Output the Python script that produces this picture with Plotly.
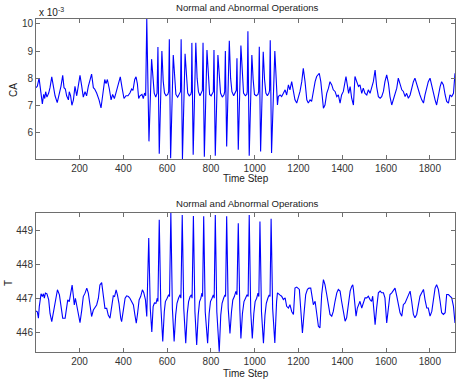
import plotly.graph_objects as go

# ---------------- data ----------------
# Concentration CA (units of 1e-3)
ca_step = [1, 7, 15, 22, 30, 36, 41, 45, 51, 59, 65, 73, 80, 88, 98, 108, 115, 123, 129, 135, 141, 149, 153, 159, 165,
           172, 179, 187, 194, 202, 210, 217, 225, 232, 240, 248, 255, 263, 269, 278, 289, 298, 309, 315, 321, 327,
           336, 344, 351, 359, 366, 377, 386, 394, 403, 412, 421, 430, 438, 444, 452, 458, 464, 470, 476, 485, 491,
           497, 502,
           507, 517, 529, 535, 541, 548, 554,
           558, 564, 576, 582, 588, 595, 603, 607,
           610, 616, 628, 634, 640, 648, 656, 661,
           664, 670, 682, 688, 694, 701, 708, 711,
           713, 719, 731, 737, 743, 750, 757, 761,
           764, 770, 782, 788, 794, 801, 808, 811,
           814, 820, 832, 838, 844, 852, 860, 863,
           866, 872, 884, 890, 896, 904, 912, 916,
           919, 925, 937, 943, 949, 957, 964, 966,
           969, 975, 987, 993, 999, 1007, 1015, 1018,
           1021, 1027, 1039, 1045, 1051, 1058, 1065, 1068,
           1071, 1077, 1092,
           1104, 1108, 1116, 1123, 1131, 1139, 1146, 1154, 1161, 1169, 1177, 1184, 1192, 1199, 1207, 1215, 1222,
           1230, 1238, 1245, 1253, 1260, 1268, 1276, 1283, 1295, 1302, 1308, 1314, 1321, 1329, 1337, 1344, 1352,
           1359, 1367, 1375, 1382, 1390, 1397, 1405, 1417, 1423, 1429, 1436, 1443, 1451, 1458, 1466, 1474, 1481,
           1489, 1496, 1504, 1512, 1519, 1527, 1534, 1542, 1550, 1557, 1565, 1573, 1580, 1588, 1595, 1603, 1611,
           1618, 1626, 1633, 1641, 1649, 1656, 1664, 1672, 1679, 1687, 1694, 1702, 1710, 1717, 1725, 1732, 1740,
           1748, 1755, 1763, 1771, 1778, 1786, 1793, 1801, 1809, 1816, 1824, 1831, 1839, 1847, 1854, 1862, 1870,
           1877, 1885, 1892, 1900, 1908, 1915]
ca_e3 = [7.65, 7.7, 8.0, 7.5, 7.05, 7.4, 7.25, 7.5, 7.3, 7.45, 7.65, 8.05, 7.75, 7.35, 7.1, 7.45, 7.7, 8.1, 7.65, 7.6,
         7.35, 7.2, 7.5, 7.35, 7.0, 7.2, 7.7, 7.35, 7.7, 8.1, 7.7, 7.3, 7.5, 7.35, 7.7, 7.95, 8.15, 7.65, 7.6, 7.45,
         7.2, 6.9, 7.75, 7.95, 7.8, 7.95, 7.6, 7.2, 7.4, 7.25, 7.45, 7.75, 8.05, 7.65, 7.25, 7.35, 7.35, 7.45, 7.6,
         7.55, 7.95, 8.05, 7.8, 7.25, 7.35, 7.4, 7.25, 7.45, 7.35,
         10.18, 5.67, 8.7, 7.95, 7.45, 7.3, 7.45,
         9.15, 5.21, 9.0, 7.9, 7.45, 7.35, 7.4, 7.5,
         9.43, 5.05, 8.85, 7.95, 7.4, 7.3, 7.4, 7.5,
         9.43, 5.02, 8.9, 8.0, 7.45, 7.35, 7.4, 7.5,
         9.3, 5.18, 9.3, 8.0, 7.5, 7.35, 7.45, 7.55,
         9.3, 5.1, 9.04, 7.95, 7.4, 7.35, 7.45, 7.5,
         9.04, 5.14, 8.85, 7.95, 7.45, 7.3, 7.4, 7.5,
         9.0, 5.48, 9.38, 8.0, 7.5, 7.35, 7.45, 7.55,
         8.73, 5.36, 9.2, 8.0, 7.45, 7.35, 7.4, 7.5,
         9.73, 5.14, 8.85, 7.95, 7.4, 7.35, 7.4, 7.5,
         9.16, 5.3, 8.97, 7.95, 7.45, 7.35, 7.45, 7.55,
         9.4, 5.24, 9.0,
         7.01, 7.32, 7.38, 7.32, 7.44, 7.57, 7.38, 7.75, 7.57, 7.87, 7.51, 7.2, 7.08, 7.26, 7.51, 7.87, 8.36,
         7.87, 7.2, 7.08, 7.2, 7.14, 7.57, 7.87, 8.06, 8.18, 7.87, 7.38, 6.89, 7.01, 7.44, 7.63, 7.87, 7.75,
         7.57, 7.51, 7.32, 7.38, 7.08, 7.38, 7.51, 8.06, 7.69, 7.44, 7.69, 7.26, 7.01, 8.06, 7.87, 7.69, 7.75,
         7.44, 7.63, 7.44, 7.38, 7.57, 7.44, 7.63, 7.87, 8.3, 7.69, 7.32, 7.26, 7.32, 7.51, 7.87, 8.12, 7.81,
         7.32, 7.01, 7.2, 7.38, 7.63, 8.0, 7.81, 7.57, 7.51, 7.32, 7.44, 7.26, 7.38, 7.63, 7.87, 8.0, 7.75,
         7.57, 7.38, 7.2, 7.08, 7.38, 7.69, 7.87, 8.0, 7.69, 7.44, 7.2, 7.01, 7.38, 7.69, 7.87, 7.75, 7.38,
         7.14, 7.08, 7.38, 7.32, 7.44, 8.18]

# Temperature T
t_step = [1, 7, 12, 16, 24, 30, 35, 39, 44, 51, 59, 65, 73, 80, 89, 99, 108, 115, 123, 134, 140, 146, 153, 159, 166,
          172, 176, 181, 187, 194, 202, 210, 217, 225, 233, 240, 248, 255, 263, 271, 278, 286, 293, 301, 309, 316,
          324, 331, 339, 347, 354, 360, 367, 373, 380, 388, 392, 400, 408, 415, 423, 430, 438, 446, 453, 459, 465,
          472, 479, 487, 493, 501, 507,
          516, 523, 530, 536, 542, 549, 555, 558,
          564, 571, 580, 587, 592, 600, 607, 611,
          617, 624, 632, 639, 645, 652, 659, 663,
          669, 676, 685, 692, 698, 705, 711, 714,
          720, 727, 735, 742, 748, 754, 759, 762,
          767, 774, 785, 792, 798, 805, 811, 815,
          820, 827, 838, 845, 851, 858, 864, 867,
          872, 879, 887, 894, 900, 907, 914, 919,
          925, 932, 937, 944, 951, 958, 965, 970,
          975, 982, 989, 996, 1002, 1009, 1015, 1019,
          1024, 1031, 1040, 1047, 1053, 1060, 1066, 1070,
          1075, 1082, 1092, 1100,
          1104, 1116, 1123, 1131, 1139, 1146, 1154, 1161, 1169, 1177, 1184, 1192, 1199, 1204, 1210, 1218, 1225,
          1233, 1241, 1248, 1256, 1262, 1268, 1276, 1283, 1291, 1298, 1306, 1314, 1321, 1329, 1337, 1344, 1352,
          1359, 1367, 1375, 1382, 1390, 1397, 1405, 1413, 1420, 1428, 1436, 1443, 1448, 1451, 1458, 1463, 1469,
          1474, 1481, 1489, 1496, 1504, 1512, 1519, 1527, 1534, 1539, 1545, 1550, 1557, 1565, 1573, 1580, 1588,
          1595, 1603, 1611, 1618, 1626, 1633, 1641, 1649, 1656, 1664, 1672, 1679, 1687, 1694, 1702, 1710, 1717,
          1725, 1732, 1740, 1748, 1755, 1763, 1771, 1778, 1786, 1793, 1801, 1809, 1816, 1824, 1831, 1839, 1847,
          1854, 1862, 1870, 1877, 1885, 1892, 1900, 1908, 1915]
t_val = [446.62, 446.6, 446.41, 446.75, 447.13, 447.05, 447.13, 447.0, 447.15, 447.13, 446.95, 446.55, 446.31,
         446.55, 446.95, 447.25, 447.1, 446.75, 446.41, 446.41, 446.75, 446.95, 446.9, 447.1, 447.39, 447.05,
         446.8, 447.0, 446.8, 446.5, 446.28, 446.65, 447.05, 447.15, 447.3, 447.15, 446.8, 446.46, 446.65, 446.75,
         446.8, 447.0, 447.39, 447.46, 447.05, 446.7, 446.7, 446.5, 446.41, 446.75, 447.07, 447.05, 447.25, 447.1,
         446.85, 446.41, 446.31, 446.65, 447.0, 447.07, 447.05, 447.0, 446.9, 446.8, 446.5, 446.26, 446.55,
         446.95, 447.05, 447.25, 447.17, 446.95, 446.46,
         448.78, 446.7, 446.0, 446.75, 446.86, 446.85, 447.0, 446.9,
         449.32, 446.8, 445.72, 446.6, 446.9, 447.0, 447.1, 447.05,
         449.53, 446.7, 445.72, 446.5, 446.85, 447.0, 447.1, 447.0,
         449.46, 446.7, 445.67, 446.55, 446.9, 447.05, 447.1, 447.0,
         449.43, 446.6, 445.62, 446.5, 446.9, 447.0, 447.15, 447.05,
         449.42, 446.6, 445.67, 446.55, 446.9, 447.0, 447.1, 447.0,
         449.46, 446.6, 445.42, 446.5, 446.85, 447.0, 447.1, 447.05,
         449.42, 446.7, 445.96, 446.6, 446.95, 447.05, 447.2, 447.1,
         449.22, 446.7, 445.81, 446.55, 446.9, 447.0, 447.1, 447.05,
         449.46, 446.6, 445.81, 446.55, 446.9, 447.0, 447.15, 447.05,
         449.27, 446.6, 445.67, 446.5, 446.85, 447.0, 447.1, 447.05,
         449.35, 446.7, 445.68, 446.9,
         447.16, 447.09, 447.06, 446.96, 447.01, 446.76, 446.71, 446.81, 446.61, 446.52, 447.3, 447.33, 447.3,
         447.26, 446.71, 445.97, 446.52, 447.11, 447.26, 447.3, 447.3, 447.11, 446.81, 446.91, 446.52, 446.17,
         446.12, 447.11, 447.55, 447.4, 447.11, 446.81, 446.52, 446.47, 446.61, 446.91, 447.16, 447.26, 447.21,
         446.91, 446.66, 446.32, 446.42, 446.91, 447.21, 447.35, 447.4, 447.26, 446.71, 446.47, 446.71, 446.81,
         446.91, 446.71, 446.86, 447.01, 447.01, 447.06, 446.96, 446.91, 447.06, 446.71, 446.22, 446.71, 447.16,
         447.21, 447.16, 447.16, 447.01, 446.27, 446.81, 447.11, 447.16, 447.21, 447.3, 447.06, 446.86, 446.57,
         446.47, 446.81, 446.86, 446.96, 447.06, 447.21, 446.91, 446.52, 446.42, 446.52, 446.81, 447.06, 447.16,
         447.26, 446.96, 446.71, 446.71, 446.47, 446.61, 446.96, 447.3, 447.4, 447.26, 446.91, 446.57, 446.52,
         446.57, 447.11, 447.11, 447.06, 447.01, 446.76, 446.27]

x_ticks = [200, 400, 600, 800, 1000, 1200, 1400, 1600, 1800]
ca_ticks = [6, 7, 8, 9, 10]
t_ticks = [446, 447, 448, 449]

title_text = "Normal and Abnormal Operations"
x_label = "Time Step"

# ---------------- figure ----------------
W, H = 457, 381
ml, mr, mt, mb = 36, 2, 19, 29
ph = H - mt - mb
top_lo = (352 - 159) / ph
bot_hi = (352 - 213) / ph

fig = go.Figure()
line = dict(color="#0000FF", width=1.1)
fig.add_trace(go.Scatter(x=ca_step, y=[v * 1e-3 for v in ca_e3], mode="lines", line=line,
                         xaxis="x", yaxis="y", showlegend=False, hoverinfo="skip"))
fig.add_trace(go.Scatter(x=t_step, y=t_val, mode="lines", line=line,
                         xaxis="x2", yaxis="y2", showlegend=False, hoverinfo="skip"))

axcol = "#6e6e6e"
tickfont = dict(family="Liberation Sans, Arial, sans-serif", size=10, color="#333333")
common_x = dict(range=[1, 1915], tickvals=x_ticks, ticks="inside", ticklen=4, tickcolor=axcol,
                showline=True, linecolor=axcol, linewidth=1, mirror="ticks", showgrid=False,
                zeroline=False, tickfont=tickfont)
common_y = dict(ticks="inside", ticklen=4, tickcolor=axcol, showline=True, linecolor=axcol,
                linewidth=1, mirror="ticks", showgrid=False, zeroline=False, tickfont=tickfont)

fig.update_layout(
    width=W, height=H,
    margin=dict(l=ml, r=mr, t=mt, b=mb),
    paper_bgcolor="white", plot_bgcolor="white",
    xaxis=dict(domain=[0, 1], anchor="y", **common_x),
    yaxis=dict(domain=[top_lo, 1], anchor="x", range=[5.02e-3, 10.18e-3],
               tickvals=[v * 1e-3 for v in ca_ticks], ticktext=[str(v) for v in ca_ticks], **common_y),
    xaxis2=dict(domain=[0, 1], anchor="y2", **common_x),
    yaxis2=dict(domain=[0, bot_hi], anchor="x2", range=[445.41, 449.52],
                tickvals=t_ticks, ticktext=[str(v) for v in t_ticks], **common_y),
)

afont = dict(family="Liberation Sans, Arial, sans-serif", size=10, color="#222222")
tfont = dict(family="Liberation Sans, Arial, sans-serif", size=9.6, color="#222222")
ann = []
cx = (ml + (W - mr)) / 2
def px(xp, yp):
    return (xp - ml) / (W - ml - mr), (H - mb - yp) / ph

for (xp, yp, text, rot, f) in [
    (247, 8, title_text, 0, tfont),
    (247, 203, title_text, 0, tfont),
    (cx, 178, x_label, 0, afont),
    (cx, 373, x_label, 0, afont),
    (14, 90, "CA", -90, afont),
    (8, 283, "T", -90, afont),
]:
    xx, yy = px(xp, yp)
    ann.append(dict(x=xx, y=yy, xref="paper", yref="paper", text=text, showarrow=False,
                    xanchor="center", yanchor="middle", textangle=rot, font=f))
xx, yy = px(37, 12)
ann.append(dict(x=xx, y=yy, xref="paper", yref="paper", text="x 10<sup>-3</sup>", showarrow=False,
                xanchor="left", yanchor="middle", font=afont))
fig.update_layout(annotations=ann)

fig.write_html("out.html", config={"displayModeBar": False},
               post_script="document.body.style.margin='0';document.body.style.overflow='hidden';")
